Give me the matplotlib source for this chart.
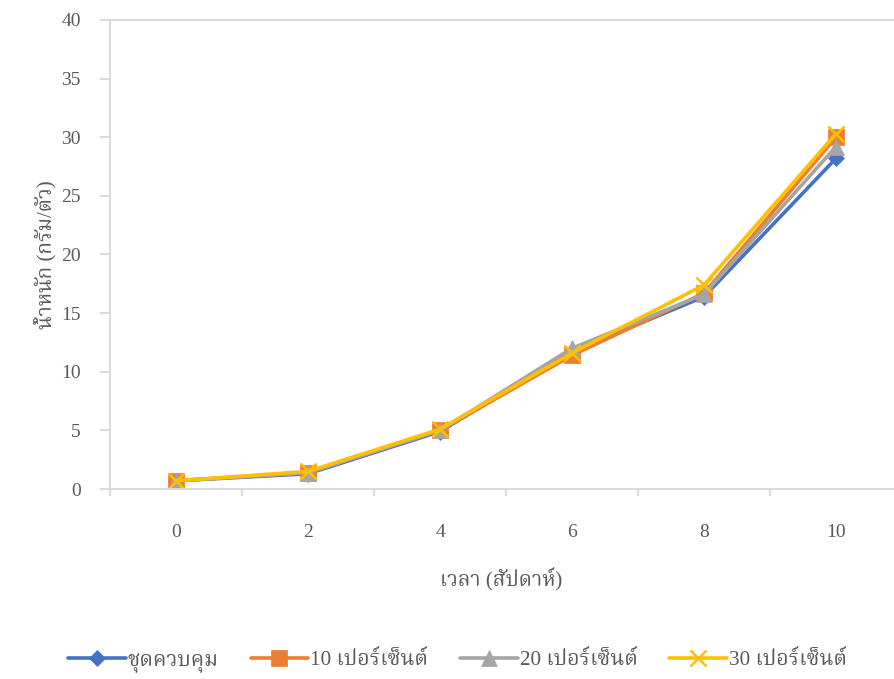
import matplotlib
matplotlib.use('Agg')
import matplotlib.pyplot as plt
from matplotlib import font_manager, ft2font

# Data
weeks = ['0', '2', '4', '6', '8', '10']
control = [0.7, 1.3, 4.9, 11.7, 16.4, 28.2]
pct10 = [0.7, 1.4, 5.0, 11.4, 16.7, 30.0]
pct20 = [0.7, 1.4, 5.0, 12.0, 16.6, 29.2]
pct30 = [0.7, 1.5, 5.1, 11.6, 17.4, 30.3]
series_names = ['ชุดควบคุม', '10 เปอร์เซ็นต์', '20 เปอร์เซ็นต์', '30 เปอร์เซ็นต์']
y_ticks = [0, 5, 10, 15, 20, 25, 30, 35, 40]


#   Find an installed font that has Thai glyphs
def thai_font():
    prefs = ['Noto Serif Thai', 'Noto Sans Thai', 'Norasi', 'Loma', 'Garuda',
             'Kinnari', 'Tlwg Typo', 'Sarabun']
    found = {}
    for f in font_manager.fontManager.ttflist:
        try:
            cmap = ft2font.FT2Font(f.fname).get_charmap()
        except Exception:
            continue
        if 0x0E01 in cmap:
            found.setdefault(f.name, f.fname)
    for p in prefs:
        if p in found:
            return p
    if found:
        return sorted(found)[0]
    return 'DejaVu Sans'


fam = ['Liberation Serif', thai_font(), 'DejaVu Sans']
plt.rcParams['font.family'] = fam

text_col = '#595959'
axis_col = '#D9D9D9'
colors = ['#4472C4', '#ED7D31', '#A5A5A5', '#FFC000']
markers = ['D', 's', '^', 'x']
msizes = [8, 12, 11, 11]

fig = plt.figure(figsize=(8.94, 6.79), dpi=100)
ax = fig.add_axes([110 / 894, 190 / 679, 783 / 894, 469 / 679])

x = list(range(len(weeks)))
for vals, name, c, m, ms in zip([control, pct10, pct20, pct30], series_names, colors, markers, msizes):
    ax.plot(x, vals, color=c, lw=2.6, marker=m, markersize=ms, markeredgewidth=1.8 if m == 'x' else 0.5,
            markeredgecolor=c, label=name, solid_capstyle='round')

# 132 px per category, the chart is cut off on the right
ax.set_xlim(-0.5, -0.5 + 783 / 132)
ax.set_ylim(0, 40)

ax.spines['right'].set_visible(False)
for s in ['left', 'bottom', 'top']:
    ax.spines[s].set_color(axis_col)
    ax.spines[s].set_linewidth(1.4)

ax.set_yticks(y_ticks)
ax.tick_params(axis='y', length=7, width=1.4, color=axis_col, labelcolor=text_col, labelsize=14, pad=14)

# tick marks between categories, labels on the categories
ax.set_xticks([i + 0.5 for i in range(-1, 5)])
ax.set_xticklabels([])
ax.tick_params(axis='x', which='major', length=5, width=1.4, color=axis_col)
ax.set_xticks(x, minor=True)
ax.set_xticklabels(weeks, minor=True)
ax.tick_params(axis='x', which='minor', length=0, labelcolor=text_col, labelsize=14, pad=25)

ax.set_ylabel('น้ำหนัก (กรัม/ตัว)', color=text_col, fontsize=15, labelpad=3)
ax.set_xlabel('เวลา (สัปดาห์)', color=text_col, fontsize=15, labelpad=19)

leg = ax.legend(loc='center', bbox_to_anchor=(0.444, -0.367), ncol=4, frameon=False,
                fontsize=15.3, handlelength=2.7, columnspacing=1.5, handletextpad=0.1)
for t in leg.get_texts():
    t.set_color(text_col)

fig.savefig('out.png', dpi=100)
